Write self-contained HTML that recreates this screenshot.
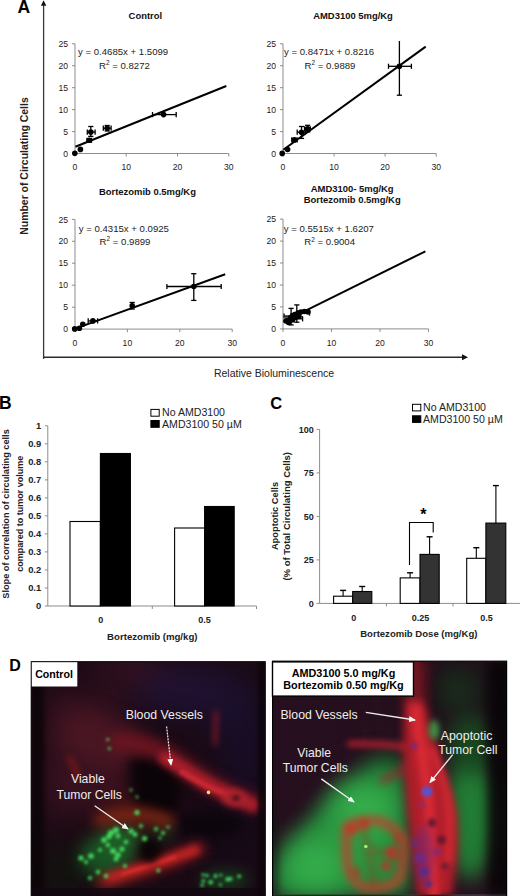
<!DOCTYPE html>
<html><head><meta charset="utf-8"><title>Figure</title>
<style>
html,body{margin:0;padding:0;background:#fff;width:520px;height:896px;overflow:hidden}
body{position:relative;font-family:"Liberation Sans", sans-serif}
</style></head><body>
<svg width="520" height="896" viewBox="0 0 520 896" style="position:absolute;left:0;top:0" font-family='"Liberation Sans", sans-serif'><text x="17.5" y="12.6" font-size="17.5" font-weight="bold" text-anchor="start" fill="#000" >A</text><line x1="43.6" y1="359" x2="43.6" y2="5" stroke="#3a3a3a" stroke-width="1.3"/><path d="M40.9 5.8 L43.6 0.3 L46.3 5.8 Z" fill="#111"/><line x1="43" y1="357.2" x2="462.5" y2="357.2" stroke="#2a2a2a" stroke-width="1.6"/><path d="M462 354.2 L468 357.2 L462 360.2 Z" fill="#111"/><text transform="translate(28.2,166) rotate(-90)" font-size="10.45" font-weight="bold" text-anchor="middle" fill="#222">Number of Circulating Cells</text><text x="274.0" y="376.6" font-size="10.5" text-anchor="middle" fill="#222" >Relative Bioluminescence</text><line x1="75" y1="43.8" x2="75" y2="154.5" stroke="#8c8c8c" stroke-width="1"/><line x1="72" y1="153.5" x2="75" y2="153.5" stroke="#8c8c8c" stroke-width="1"/><text x="68.0" y="156.6" font-size="8.6" text-anchor="end" fill="#222" >0</text><line x1="72" y1="131.6" x2="75" y2="131.6" stroke="#8c8c8c" stroke-width="1"/><text x="68.0" y="134.7" font-size="8.6" text-anchor="end" fill="#222" >5</text><line x1="72" y1="109.6" x2="75" y2="109.6" stroke="#8c8c8c" stroke-width="1"/><text x="68.0" y="112.7" font-size="8.6" text-anchor="end" fill="#222" >10</text><line x1="72" y1="87.7" x2="75" y2="87.7" stroke="#8c8c8c" stroke-width="1"/><text x="68.0" y="90.8" font-size="8.6" text-anchor="end" fill="#222" >15</text><line x1="72" y1="65.7" x2="75" y2="65.7" stroke="#8c8c8c" stroke-width="1"/><text x="68.0" y="68.8" font-size="8.6" text-anchor="end" fill="#222" >20</text><line x1="72" y1="43.8" x2="75" y2="43.8" stroke="#8c8c8c" stroke-width="1"/><text x="68.0" y="46.9" font-size="8.6" text-anchor="end" fill="#222" >25</text><line x1="75" y1="153.5" x2="228.8" y2="153.5" stroke="#8c8c8c" stroke-width="1"/><line x1="75.0" y1="153.5" x2="75.0" y2="156.5" stroke="#8c8c8c" stroke-width="1"/><text x="75.0" y="169.5" font-size="8.6" text-anchor="middle" fill="#222" >0</text><line x1="126.2" y1="153.5" x2="126.2" y2="156.5" stroke="#8c8c8c" stroke-width="1"/><text x="126.2" y="169.5" font-size="8.6" text-anchor="middle" fill="#222" >10</text><line x1="177.5" y1="153.5" x2="177.5" y2="156.5" stroke="#8c8c8c" stroke-width="1"/><text x="177.5" y="169.5" font-size="8.6" text-anchor="middle" fill="#222" >20</text><line x1="228.8" y1="153.5" x2="228.8" y2="156.5" stroke="#8c8c8c" stroke-width="1"/><text x="228.8" y="169.5" font-size="8.6" text-anchor="middle" fill="#222" >30</text><text x="145.4" y="18.8" font-size="9.45" font-weight="bold" text-anchor="middle" fill="#111" >Control</text><text x="78.0" y="55.1" font-size="9.6" text-anchor="start" fill="#222" >y = 0.4685x + 1.5099</text><text x="99.0" y="68.8" font-size="9.6" text-anchor="start" fill="#222" >R<tspan dy="-3.5" font-size="6.5">2</tspan><tspan dy="3.5"> = 0.8272</tspan></text><line x1="90.8" y1="126.5" x2="90.8" y2="136.4" stroke="#000" stroke-width="1.3"/><line x1="88.2" y1="126.5" x2="93.39999999999999" y2="126.5" stroke="#000" stroke-width="1.3"/><line x1="88.2" y1="136.4" x2="93.39999999999999" y2="136.4" stroke="#000" stroke-width="1.3"/><line x1="87.3" y1="132.1" x2="95.1" y2="132.1" stroke="#000" stroke-width="1.3"/><line x1="87.3" y1="129.5" x2="87.3" y2="134.7" stroke="#000" stroke-width="1.3"/><line x1="95.1" y1="129.5" x2="95.1" y2="134.7" stroke="#000" stroke-width="1.3"/><line x1="103.3" y1="128.2" x2="111.1" y2="128.2" stroke="#000" stroke-width="1.3"/><line x1="103.3" y1="125.6" x2="103.3" y2="130.79999999999998" stroke="#000" stroke-width="1.3"/><line x1="111.1" y1="125.6" x2="111.1" y2="130.79999999999998" stroke="#000" stroke-width="1.3"/><line x1="107.2" y1="125.5" x2="107.2" y2="131" stroke="#000" stroke-width="1.3"/><line x1="104.60000000000001" y1="125.5" x2="109.8" y2="125.5" stroke="#000" stroke-width="1.3"/><line x1="104.60000000000001" y1="131" x2="109.8" y2="131" stroke="#000" stroke-width="1.3"/><line x1="87.0" y1="140.3" x2="91.5" y2="140.3" stroke="#000" stroke-width="1.3"/><line x1="87.0" y1="137.70000000000002" x2="87.0" y2="142.9" stroke="#000" stroke-width="1.3"/><line x1="91.5" y1="137.70000000000002" x2="91.5" y2="142.9" stroke="#000" stroke-width="1.3"/><line x1="152.5" y1="114.6" x2="176.2" y2="114.6" stroke="#000" stroke-width="1.3"/><line x1="152.5" y1="112.0" x2="152.5" y2="117.19999999999999" stroke="#000" stroke-width="1.3"/><line x1="176.2" y1="112.0" x2="176.2" y2="117.19999999999999" stroke="#000" stroke-width="1.3"/><circle cx="74.8" cy="153.3" r="2.8" fill="#000"/><circle cx="80.4" cy="149.4" r="2.8" fill="#000"/><circle cx="89.2" cy="140.3" r="2.8" fill="#000"/><circle cx="90.8" cy="132.1" r="2.8" fill="#000"/><circle cx="107.2" cy="128.2" r="2.8" fill="#000"/><circle cx="163.6" cy="114.6" r="2.8" fill="#000"/><line x1="75.4" y1="146.8" x2="226.3" y2="86.0" stroke="#000" stroke-width="2"/><line x1="283" y1="43.8" x2="283" y2="154.5" stroke="#8c8c8c" stroke-width="1"/><line x1="280" y1="153.5" x2="283" y2="153.5" stroke="#8c8c8c" stroke-width="1"/><text x="276.0" y="156.6" font-size="8.6" text-anchor="end" fill="#222" >0</text><line x1="280" y1="131.6" x2="283" y2="131.6" stroke="#8c8c8c" stroke-width="1"/><text x="276.0" y="134.7" font-size="8.6" text-anchor="end" fill="#222" >5</text><line x1="280" y1="109.6" x2="283" y2="109.6" stroke="#8c8c8c" stroke-width="1"/><text x="276.0" y="112.7" font-size="8.6" text-anchor="end" fill="#222" >10</text><line x1="280" y1="87.7" x2="283" y2="87.7" stroke="#8c8c8c" stroke-width="1"/><text x="276.0" y="90.8" font-size="8.6" text-anchor="end" fill="#222" >15</text><line x1="280" y1="65.7" x2="283" y2="65.7" stroke="#8c8c8c" stroke-width="1"/><text x="276.0" y="68.8" font-size="8.6" text-anchor="end" fill="#222" >20</text><line x1="280" y1="43.8" x2="283" y2="43.8" stroke="#8c8c8c" stroke-width="1"/><text x="276.0" y="46.9" font-size="8.6" text-anchor="end" fill="#222" >25</text><line x1="283" y1="153.5" x2="436.2" y2="153.5" stroke="#8c8c8c" stroke-width="1"/><line x1="283.0" y1="153.5" x2="283.0" y2="156.5" stroke="#8c8c8c" stroke-width="1"/><text x="283.0" y="169.5" font-size="8.6" text-anchor="middle" fill="#222" >0</text><line x1="334.1" y1="153.5" x2="334.1" y2="156.5" stroke="#8c8c8c" stroke-width="1"/><text x="334.1" y="169.5" font-size="8.6" text-anchor="middle" fill="#222" >10</text><line x1="385.1" y1="153.5" x2="385.1" y2="156.5" stroke="#8c8c8c" stroke-width="1"/><text x="385.1" y="169.5" font-size="8.6" text-anchor="middle" fill="#222" >20</text><line x1="436.2" y1="153.5" x2="436.2" y2="156.5" stroke="#8c8c8c" stroke-width="1"/><text x="436.2" y="169.5" font-size="8.6" text-anchor="middle" fill="#222" >30</text><text x="353.0" y="19.4" font-size="9.45" font-weight="bold" text-anchor="middle" fill="#111" >AMD3100 5mg/Kg</text><text x="284.0" y="55.1" font-size="9.6" text-anchor="start" fill="#222" >y = 0.8471x + 0.8216</text><text x="304.6" y="68.5" font-size="9.6" text-anchor="start" fill="#222" >R<tspan dy="-3.5" font-size="6.5">2</tspan><tspan dy="3.5"> = 0.9889</tspan></text><line x1="301.5" y1="126.5" x2="301.5" y2="138.4" stroke="#000" stroke-width="1.3"/><line x1="298.9" y1="126.5" x2="304.1" y2="126.5" stroke="#000" stroke-width="1.3"/><line x1="298.9" y1="138.4" x2="304.1" y2="138.4" stroke="#000" stroke-width="1.3"/><line x1="297.2" y1="132.2" x2="305.3" y2="132.2" stroke="#000" stroke-width="1.3"/><line x1="297.2" y1="129.6" x2="297.2" y2="134.79999999999998" stroke="#000" stroke-width="1.3"/><line x1="305.3" y1="129.6" x2="305.3" y2="134.79999999999998" stroke="#000" stroke-width="1.3"/><line x1="307.6" y1="125.3" x2="307.6" y2="132" stroke="#000" stroke-width="1.3"/><line x1="305.0" y1="125.3" x2="310.20000000000005" y2="125.3" stroke="#000" stroke-width="1.3"/><line x1="305.0" y1="132" x2="310.20000000000005" y2="132" stroke="#000" stroke-width="1.3"/><line x1="304.5" y1="128.8" x2="310.3" y2="128.8" stroke="#000" stroke-width="1.3"/><line x1="304.5" y1="126.20000000000002" x2="304.5" y2="131.4" stroke="#000" stroke-width="1.3"/><line x1="310.3" y1="126.20000000000002" x2="310.3" y2="131.4" stroke="#000" stroke-width="1.3"/><line x1="291.8" y1="139.9" x2="297.2" y2="139.9" stroke="#000" stroke-width="1.3"/><line x1="291.8" y1="137.3" x2="291.8" y2="142.5" stroke="#000" stroke-width="1.3"/><line x1="297.2" y1="137.3" x2="297.2" y2="142.5" stroke="#000" stroke-width="1.3"/><line x1="399.4" y1="41.0" x2="399.4" y2="95.2" stroke="#000" stroke-width="1.3"/><line x1="396.79999999999995" y1="95.2" x2="402.0" y2="95.2" stroke="#000" stroke-width="1.3"/><line x1="388.5" y1="66.3" x2="411.4" y2="66.3" stroke="#000" stroke-width="1.3"/><line x1="388.5" y1="63.699999999999996" x2="388.5" y2="68.89999999999999" stroke="#000" stroke-width="1.3"/><line x1="411.4" y1="63.699999999999996" x2="411.4" y2="68.89999999999999" stroke="#000" stroke-width="1.3"/><circle cx="282.2" cy="153.4" r="2.8" fill="#000"/><circle cx="287.6" cy="149.5" r="2.8" fill="#000"/><circle cx="294.5" cy="139.9" r="2.8" fill="#000"/><circle cx="301.5" cy="132.2" r="2.8" fill="#000"/><circle cx="307.6" cy="128.8" r="2.8" fill="#000"/><circle cx="399.4" cy="66.3" r="2.8" fill="#000"/><line x1="283.3" y1="149.8" x2="425.7" y2="46.6" stroke="#000" stroke-width="2"/><line x1="75" y1="219.4" x2="75" y2="330.1" stroke="#8c8c8c" stroke-width="1"/><line x1="72" y1="329.1" x2="75" y2="329.1" stroke="#8c8c8c" stroke-width="1"/><text x="68.0" y="332.2" font-size="8.6" text-anchor="end" fill="#222" >0</text><line x1="72" y1="307.2" x2="75" y2="307.2" stroke="#8c8c8c" stroke-width="1"/><text x="68.0" y="310.3" font-size="8.6" text-anchor="end" fill="#222" >5</text><line x1="72" y1="285.2" x2="75" y2="285.2" stroke="#8c8c8c" stroke-width="1"/><text x="68.0" y="288.3" font-size="8.6" text-anchor="end" fill="#222" >10</text><line x1="72" y1="263.2" x2="75" y2="263.2" stroke="#8c8c8c" stroke-width="1"/><text x="68.0" y="266.4" font-size="8.6" text-anchor="end" fill="#222" >15</text><line x1="72" y1="241.3" x2="75" y2="241.3" stroke="#8c8c8c" stroke-width="1"/><text x="68.0" y="244.4" font-size="8.6" text-anchor="end" fill="#222" >20</text><line x1="72" y1="219.4" x2="75" y2="219.4" stroke="#8c8c8c" stroke-width="1"/><text x="68.0" y="222.5" font-size="8.6" text-anchor="end" fill="#222" >25</text><line x1="75" y1="329.1" x2="232.2" y2="329.1" stroke="#8c8c8c" stroke-width="1"/><line x1="75.0" y1="329.1" x2="75.0" y2="332.1" stroke="#8c8c8c" stroke-width="1"/><text x="75.0" y="346.0" font-size="8.6" text-anchor="middle" fill="#222" >0</text><line x1="127.4" y1="329.1" x2="127.4" y2="332.1" stroke="#8c8c8c" stroke-width="1"/><text x="127.4" y="346.0" font-size="8.6" text-anchor="middle" fill="#222" >10</text><line x1="179.8" y1="329.1" x2="179.8" y2="332.1" stroke="#8c8c8c" stroke-width="1"/><text x="179.8" y="346.0" font-size="8.6" text-anchor="middle" fill="#222" >20</text><line x1="232.2" y1="329.1" x2="232.2" y2="332.1" stroke="#8c8c8c" stroke-width="1"/><text x="232.2" y="346.0" font-size="8.6" text-anchor="middle" fill="#222" >30</text><text x="147.4" y="195.0" font-size="9.45" font-weight="bold" text-anchor="middle" fill="#111" >Bortezomib 0.5mg/Kg</text><text x="78.8" y="231.5" font-size="9.6" text-anchor="start" fill="#222" >y = 0.4315x + 0.0925</text><text x="99.6" y="244.6" font-size="9.6" text-anchor="start" fill="#222" >R<tspan dy="-3.5" font-size="6.5">2</tspan><tspan dy="3.5"> = 0.9899</tspan></text><line x1="88.2" y1="320.9" x2="97.6" y2="320.9" stroke="#000" stroke-width="1.3"/><line x1="88.2" y1="318.29999999999995" x2="88.2" y2="323.5" stroke="#000" stroke-width="1.3"/><line x1="97.6" y1="318.29999999999995" x2="97.6" y2="323.5" stroke="#000" stroke-width="1.3"/><line x1="132.2" y1="302.5" x2="132.2" y2="309" stroke="#000" stroke-width="1.3"/><line x1="129.6" y1="302.5" x2="134.79999999999998" y2="302.5" stroke="#000" stroke-width="1.3"/><line x1="129.6" y1="309" x2="134.79999999999998" y2="309" stroke="#000" stroke-width="1.3"/><line x1="193.8" y1="273.7" x2="193.8" y2="300.4" stroke="#000" stroke-width="1.3"/><line x1="191.20000000000002" y1="273.7" x2="196.4" y2="273.7" stroke="#000" stroke-width="1.3"/><line x1="191.20000000000002" y1="300.4" x2="196.4" y2="300.4" stroke="#000" stroke-width="1.3"/><line x1="166.9" y1="286.5" x2="221.2" y2="286.5" stroke="#000" stroke-width="1.3"/><line x1="166.9" y1="283.9" x2="166.9" y2="289.1" stroke="#000" stroke-width="1.3"/><line x1="221.2" y1="283.9" x2="221.2" y2="289.1" stroke="#000" stroke-width="1.3"/><circle cx="74.7" cy="328.9" r="2.8" fill="#000"/><circle cx="79.4" cy="328.3" r="2.8" fill="#000"/><circle cx="82.8" cy="324.2" r="2.8" fill="#000"/><circle cx="92.9" cy="320.9" r="2.8" fill="#000"/><circle cx="132.2" cy="305.7" r="2.8" fill="#000"/><circle cx="193.8" cy="286.5" r="2.8" fill="#000"/><line x1="75.3" y1="328.6" x2="225.2" y2="274.2" stroke="#000" stroke-width="2"/><line x1="283" y1="219.1" x2="283" y2="329.9" stroke="#8c8c8c" stroke-width="1"/><line x1="280" y1="328.9" x2="283" y2="328.9" stroke="#8c8c8c" stroke-width="1"/><text x="276.0" y="332.0" font-size="8.6" text-anchor="end" fill="#222" >0</text><line x1="280" y1="306.9" x2="283" y2="306.9" stroke="#8c8c8c" stroke-width="1"/><text x="276.0" y="310.1" font-size="8.6" text-anchor="end" fill="#222" >5</text><line x1="280" y1="285.0" x2="283" y2="285.0" stroke="#8c8c8c" stroke-width="1"/><text x="276.0" y="288.1" font-size="8.6" text-anchor="end" fill="#222" >10</text><line x1="280" y1="263.0" x2="283" y2="263.0" stroke="#8c8c8c" stroke-width="1"/><text x="276.0" y="266.1" font-size="8.6" text-anchor="end" fill="#222" >15</text><line x1="280" y1="241.1" x2="283" y2="241.1" stroke="#8c8c8c" stroke-width="1"/><text x="276.0" y="244.2" font-size="8.6" text-anchor="end" fill="#222" >20</text><line x1="280" y1="219.1" x2="283" y2="219.1" stroke="#8c8c8c" stroke-width="1"/><text x="276.0" y="222.2" font-size="8.6" text-anchor="end" fill="#222" >25</text><line x1="283" y1="328.9" x2="428.5" y2="328.9" stroke="#8c8c8c" stroke-width="1"/><line x1="283.0" y1="328.9" x2="283.0" y2="331.9" stroke="#8c8c8c" stroke-width="1"/><text x="283.0" y="346.0" font-size="8.6" text-anchor="middle" fill="#222" >0</text><line x1="331.5" y1="328.9" x2="331.5" y2="331.9" stroke="#8c8c8c" stroke-width="1"/><text x="331.5" y="346.0" font-size="8.6" text-anchor="middle" fill="#222" >10</text><line x1="380.0" y1="328.9" x2="380.0" y2="331.9" stroke="#8c8c8c" stroke-width="1"/><text x="380.0" y="346.0" font-size="8.6" text-anchor="middle" fill="#222" >20</text><line x1="428.5" y1="328.9" x2="428.5" y2="331.9" stroke="#8c8c8c" stroke-width="1"/><text x="428.5" y="346.0" font-size="8.6" text-anchor="middle" fill="#222" >30</text><text x="352.2" y="192.3" font-size="9.45" font-weight="bold" text-anchor="middle" fill="#111" >AMD3100- 5mg/Kg</text><text x="352.2" y="203.3" font-size="9.45" font-weight="bold" text-anchor="middle" fill="#111" >Bortezomib 0.5mg/Kg</text><text x="283.8" y="232.0" font-size="9.6" text-anchor="start" fill="#222" >y = 0.5515x + 1.6207</text><text x="304.2" y="245.0" font-size="9.6" text-anchor="start" fill="#222" >R<tspan dy="-3.5" font-size="6.5">2</tspan><tspan dy="3.5"> = 0.9004</tspan></text><line x1="291.1" y1="308.4" x2="291.1" y2="324.9" stroke="#000" stroke-width="1.3"/><line x1="288.5" y1="308.4" x2="293.70000000000005" y2="308.4" stroke="#000" stroke-width="1.3"/><line x1="288.5" y1="324.9" x2="293.70000000000005" y2="324.9" stroke="#000" stroke-width="1.3"/><line x1="296.8" y1="304.9" x2="296.8" y2="322.2" stroke="#000" stroke-width="1.3"/><line x1="294.2" y1="304.9" x2="299.40000000000003" y2="304.9" stroke="#000" stroke-width="1.3"/><line x1="294.2" y1="322.2" x2="299.40000000000003" y2="322.2" stroke="#000" stroke-width="1.3"/><line x1="286" y1="318.8" x2="302.6" y2="318.8" stroke="#000" stroke-width="1.3"/><line x1="286" y1="316.2" x2="286" y2="321.40000000000003" stroke="#000" stroke-width="1.3"/><line x1="302.6" y1="316.2" x2="302.6" y2="321.40000000000003" stroke="#000" stroke-width="1.3"/><line x1="298" y1="313" x2="309.5" y2="313" stroke="#000" stroke-width="1.3"/><line x1="298" y1="310.4" x2="298" y2="315.6" stroke="#000" stroke-width="1.3"/><line x1="309.5" y1="310.4" x2="309.5" y2="315.6" stroke="#000" stroke-width="1.3"/><line x1="284" y1="316" x2="296" y2="316" stroke="#000" stroke-width="1.3"/><line x1="284" y1="313.4" x2="284" y2="318.6" stroke="#000" stroke-width="1.3"/><line x1="296" y1="313.4" x2="296" y2="318.6" stroke="#000" stroke-width="1.3"/><circle cx="286" cy="321" r="2.8" fill="#000"/><circle cx="288.5" cy="322.5" r="2.8" fill="#000"/><circle cx="290" cy="318" r="2.8" fill="#000"/><circle cx="292.5" cy="320" r="2.8" fill="#000"/><circle cx="292.5" cy="315.5" r="2.8" fill="#000"/><circle cx="295.5" cy="317.5" r="2.8" fill="#000"/><circle cx="295" cy="314.5" r="2.8" fill="#000"/><circle cx="298" cy="313" r="2.8" fill="#000"/><circle cx="299" cy="316.5" r="2.8" fill="#000"/><circle cx="301" cy="312" r="2.8" fill="#000"/><circle cx="304.5" cy="311.5" r="2.8" fill="#000"/><circle cx="308" cy="312" r="2.8" fill="#000"/><line x1="283.5" y1="321.6" x2="425.4" y2="251.3" stroke="#000" stroke-width="2"/><text x="-0.9" y="408.9" font-size="17.5" font-weight="bold" text-anchor="start" fill="#000" >B</text><line x1="47.8" y1="425.8" x2="47.8" y2="606.0" stroke="#8c8c8c" stroke-width="1"/><line x1="44.8" y1="606.0" x2="47.8" y2="606.0" stroke="#8c8c8c" stroke-width="1"/><text x="41.2" y="609.3" font-size="9.4" font-weight="bold" text-anchor="end" fill="#222" >0</text><line x1="44.8" y1="588.0" x2="47.8" y2="588.0" stroke="#8c8c8c" stroke-width="1"/><text x="41.2" y="591.3" font-size="9.4" font-weight="bold" text-anchor="end" fill="#222" >0.1</text><line x1="44.8" y1="570.0" x2="47.8" y2="570.0" stroke="#8c8c8c" stroke-width="1"/><text x="41.2" y="573.3" font-size="9.4" font-weight="bold" text-anchor="end" fill="#222" >0.2</text><line x1="44.8" y1="551.9" x2="47.8" y2="551.9" stroke="#8c8c8c" stroke-width="1"/><text x="41.2" y="555.2" font-size="9.4" font-weight="bold" text-anchor="end" fill="#222" >0.3</text><line x1="44.8" y1="533.9" x2="47.8" y2="533.9" stroke="#8c8c8c" stroke-width="1"/><text x="41.2" y="537.2" font-size="9.4" font-weight="bold" text-anchor="end" fill="#222" >0.4</text><line x1="44.8" y1="515.9" x2="47.8" y2="515.9" stroke="#8c8c8c" stroke-width="1"/><text x="41.2" y="519.2" font-size="9.4" font-weight="bold" text-anchor="end" fill="#222" >0.5</text><line x1="44.8" y1="497.9" x2="47.8" y2="497.9" stroke="#8c8c8c" stroke-width="1"/><text x="41.2" y="501.2" font-size="9.4" font-weight="bold" text-anchor="end" fill="#222" >0.6</text><line x1="44.8" y1="479.9" x2="47.8" y2="479.9" stroke="#8c8c8c" stroke-width="1"/><text x="41.2" y="483.2" font-size="9.4" font-weight="bold" text-anchor="end" fill="#222" >0.7</text><line x1="44.8" y1="461.8" x2="47.8" y2="461.8" stroke="#8c8c8c" stroke-width="1"/><text x="41.2" y="465.1" font-size="9.4" font-weight="bold" text-anchor="end" fill="#222" >0.8</text><line x1="44.8" y1="443.8" x2="47.8" y2="443.8" stroke="#8c8c8c" stroke-width="1"/><text x="41.2" y="447.1" font-size="9.4" font-weight="bold" text-anchor="end" fill="#222" >0.9</text><line x1="44.8" y1="425.8" x2="47.8" y2="425.8" stroke="#8c8c8c" stroke-width="1"/><text x="41.2" y="429.1" font-size="9.4" font-weight="bold" text-anchor="end" fill="#222" >1</text><line x1="47.8" y1="606.0" x2="256.5" y2="606.0" stroke="#8c8c8c" stroke-width="1"/><line x1="152.3" y1="606.0" x2="152.3" y2="609.0" stroke="#8c8c8c" stroke-width="1"/><line x1="256.5" y1="606.0" x2="256.5" y2="609.0" stroke="#8c8c8c" stroke-width="1"/><rect x="70.0" y="521.5" width="30.4" height="84.5" fill="#fff" stroke="#000" stroke-width="1.1"/><rect x="100.4" y="453.5" width="30.0" height="152.5" fill="#000" stroke="#000" stroke-width="1.1"/><rect x="174.6" y="528.0" width="30.0" height="78.0" fill="#fff" stroke="#000" stroke-width="1.1"/><rect x="204.6" y="506.5" width="29.6" height="99.5" fill="#000" stroke="#000" stroke-width="1.1"/><text x="100.8" y="623.3" font-size="9" font-weight="bold" text-anchor="middle" fill="#222" >0</text><text x="204.6" y="623.3" font-size="9" font-weight="bold" text-anchor="middle" fill="#222" >0.5</text><text x="152.3" y="639.8" font-size="9.65" font-weight="bold" text-anchor="middle" fill="#222" >Bortezomib (mg/kg)</text><text transform="translate(9.2,514) rotate(-90)" font-size="9.2" font-weight="bold" text-anchor="middle" fill="#222">Slope of correlation of circulating cells</text><text transform="translate(23.0,513.7) rotate(-90)" font-size="9.0" font-weight="bold" text-anchor="middle" fill="#222">compared to tumor volume</text><rect x="150.9" y="409.4" width="8.3" height="6.8" fill="#fff" stroke="#000" stroke-width="1"/><rect x="150.9" y="420.5" width="8.3" height="6.8" fill="#000" stroke="#000" stroke-width="1"/><text x="162.0" y="416.0" font-size="10.6" text-anchor="start" fill="#222" >No AMD3100</text><text x="162.0" y="427.5" font-size="10.6" text-anchor="start" fill="#222" >AMD3100 50 µM</text><text x="270.2" y="409.2" font-size="16.5" font-weight="bold" text-anchor="start" fill="#000" >C</text><line x1="319.6" y1="429.4" x2="319.6" y2="603.4" stroke="#8c8c8c" stroke-width="1"/><line x1="316.6" y1="603.4" x2="319.6" y2="603.4" stroke="#8c8c8c" stroke-width="1"/><text x="313.8" y="606.6" font-size="9" font-weight="bold" text-anchor="end" fill="#222" >0</text><line x1="316.6" y1="559.9" x2="319.6" y2="559.9" stroke="#8c8c8c" stroke-width="1"/><text x="313.8" y="563.1" font-size="9" font-weight="bold" text-anchor="end" fill="#222" >25</text><line x1="316.6" y1="516.4" x2="319.6" y2="516.4" stroke="#8c8c8c" stroke-width="1"/><text x="313.8" y="519.6" font-size="9" font-weight="bold" text-anchor="end" fill="#222" >50</text><line x1="316.6" y1="472.9" x2="319.6" y2="472.9" stroke="#8c8c8c" stroke-width="1"/><text x="313.8" y="476.1" font-size="9" font-weight="bold" text-anchor="end" fill="#222" >75</text><line x1="316.6" y1="429.4" x2="319.6" y2="429.4" stroke="#8c8c8c" stroke-width="1"/><text x="313.8" y="432.6" font-size="9" font-weight="bold" text-anchor="end" fill="#222" >100</text><line x1="319.6" y1="603.4" x2="520" y2="603.4" stroke="#8c8c8c" stroke-width="1"/><line x1="386.4" y1="603.4" x2="386.4" y2="606.4" stroke="#8c8c8c" stroke-width="1"/><line x1="453.0" y1="603.4" x2="453.0" y2="606.4" stroke="#8c8c8c" stroke-width="1"/><line x1="343.1" y1="596.2" x2="343.1" y2="590.4" stroke="#000" stroke-width="1.1"/><line x1="340.1" y1="590.4" x2="346.1" y2="590.4" stroke="#000" stroke-width="1.4"/><rect x="333.6" y="596.2" width="19.1" height="7.2" fill="#fff" stroke="#000" stroke-width="1.1"/><line x1="362.2" y1="591.5" x2="362.2" y2="586.5" stroke="#000" stroke-width="1.1"/><line x1="359.2" y1="586.5" x2="365.2" y2="586.5" stroke="#000" stroke-width="1.4"/><rect x="352.7" y="591.5" width="19.1" height="11.9" fill="#333" stroke="#000" stroke-width="1.1"/><line x1="410.1" y1="577.9" x2="410.1" y2="572.8" stroke="#000" stroke-width="1.1"/><line x1="407.1" y1="572.8" x2="413.1" y2="572.8" stroke="#000" stroke-width="1.4"/><rect x="400.2" y="577.9" width="19.8" height="25.5" fill="#fff" stroke="#000" stroke-width="1.1"/><line x1="429.6" y1="554.4" x2="429.6" y2="536.8" stroke="#000" stroke-width="1.1"/><line x1="426.6" y1="536.8" x2="432.6" y2="536.8" stroke="#000" stroke-width="1.4"/><rect x="420.0" y="554.4" width="19.2" height="49.0" fill="#333" stroke="#000" stroke-width="1.1"/><line x1="476.3" y1="558.3" x2="476.3" y2="547.7" stroke="#000" stroke-width="1.1"/><line x1="473.3" y1="547.7" x2="479.3" y2="547.7" stroke="#000" stroke-width="1.4"/><rect x="466.7" y="558.3" width="19.2" height="45.1" fill="#fff" stroke="#000" stroke-width="1.1"/><line x1="495.9" y1="523.1" x2="495.9" y2="485.6" stroke="#000" stroke-width="1.1"/><line x1="492.9" y1="485.6" x2="498.9" y2="485.6" stroke="#000" stroke-width="1.4"/><rect x="485.9" y="523.1" width="19.9" height="80.3" fill="#333" stroke="#000" stroke-width="1.1"/><path d="M409.5 565 L409.5 522.5 L433.2 522.5 L433.2 532.5" fill="none" stroke="#000" stroke-width="1.1"/><text x="423.4" y="519.5" font-size="16" font-weight="bold" text-anchor="middle" fill="#000" >*</text><text x="353.8" y="621.0" font-size="9" font-weight="bold" text-anchor="middle" fill="#222" >0</text><text x="420.6" y="621.0" font-size="9" font-weight="bold" text-anchor="middle" fill="#222" >0.25</text><text x="486.5" y="621.0" font-size="9" font-weight="bold" text-anchor="middle" fill="#222" >0.5</text><text x="418.8" y="637.3" font-size="9.55" font-weight="bold" text-anchor="middle" fill="#222" >Bortezomib Dose (mg/Kg)</text><text transform="translate(278.2,516) rotate(-90)" font-size="9.3" font-weight="bold" text-anchor="middle" fill="#222">Apoptotic Cells</text><text transform="translate(290.2,516.3) rotate(-90)" font-size="9.5" font-weight="bold" text-anchor="middle" fill="#222">(% of Total Circulating Cells)</text><rect x="412.5" y="404.3" width="8.3" height="6.6" fill="#fff" stroke="#000" stroke-width="1"/><rect x="412.5" y="415.8" width="8.3" height="6.6" fill="#000" stroke="#000" stroke-width="1"/><text x="423.0" y="410.9" font-size="10.6" text-anchor="start" fill="#222" >No AMD3100</text><text x="423.0" y="422.8" font-size="10.6" text-anchor="start" fill="#222" >AMD3100 50 µM</text><text x="9.2" y="670.8" font-size="16" font-weight="bold" text-anchor="start" fill="#000" >D</text></svg>
<svg width="520" height="896" viewBox="0 0 520 896" style="position:absolute;left:0;top:0" font-family='"Liberation Sans", sans-serif'>
<defs>
<filter id="b0_7" filterUnits="userSpaceOnUse" x="0" y="600" width="520" height="296" color-interpolation-filters="sRGB"><feGaussianBlur stdDeviation="0.7"/></filter>
<filter id="b1" filterUnits="userSpaceOnUse" x="0" y="600" width="520" height="296" color-interpolation-filters="sRGB"><feGaussianBlur stdDeviation="1"/></filter>
<filter id="b1_5" filterUnits="userSpaceOnUse" x="0" y="600" width="520" height="296" color-interpolation-filters="sRGB"><feGaussianBlur stdDeviation="1.5"/></filter>
<filter id="b2" filterUnits="userSpaceOnUse" x="0" y="600" width="520" height="296" color-interpolation-filters="sRGB"><feGaussianBlur stdDeviation="2"/></filter>
<filter id="b3" filterUnits="userSpaceOnUse" x="0" y="600" width="520" height="296" color-interpolation-filters="sRGB"><feGaussianBlur stdDeviation="3"/></filter>
<filter id="b4" filterUnits="userSpaceOnUse" x="0" y="600" width="520" height="296" color-interpolation-filters="sRGB"><feGaussianBlur stdDeviation="4"/></filter>
<filter id="b5" filterUnits="userSpaceOnUse" x="0" y="600" width="520" height="296" color-interpolation-filters="sRGB"><feGaussianBlur stdDeviation="5"/></filter>
<filter id="b6" filterUnits="userSpaceOnUse" x="0" y="600" width="520" height="296" color-interpolation-filters="sRGB"><feGaussianBlur stdDeviation="6"/></filter>
<filter id="b8" filterUnits="userSpaceOnUse" x="0" y="600" width="520" height="296" color-interpolation-filters="sRGB"><feGaussianBlur stdDeviation="8"/></filter>
<filter id="b10" filterUnits="userSpaceOnUse" x="0" y="600" width="520" height="296" color-interpolation-filters="sRGB"><feGaussianBlur stdDeviation="10"/></filter>
<filter id="b12" filterUnits="userSpaceOnUse" x="0" y="600" width="520" height="296" color-interpolation-filters="sRGB"><feGaussianBlur stdDeviation="12"/></filter>
<filter id="b16" filterUnits="userSpaceOnUse" x="0" y="600" width="520" height="296" color-interpolation-filters="sRGB"><feGaussianBlur stdDeviation="16"/></filter>
<filter id="b20" filterUnits="userSpaceOnUse" x="0" y="600" width="520" height="296" color-interpolation-filters="sRGB"><feGaussianBlur stdDeviation="20"/></filter>
<clipPath id="cl"><rect x="30.8" y="661.2" width="234.7" height="234.8"/></clipPath>
<clipPath id="cr"><rect x="272" y="661.2" width="235" height="234.8"/></clipPath>
<marker id="ah" markerWidth="7" markerHeight="6" refX="6" refY="3" orient="auto" markerUnits="userSpaceOnUse"><path d="M0 0 L7 3 L0 6 Z" fill="#f4f4f4"/></marker>
</defs>
<g clip-path="url(#cl)">
<rect x="30.8" y="661.2" width="234.7" height="234.8" fill="#1a0a14"/>
<g filter="url(#b16)">
<path d="M45 690 L120 700 L140 760 L125 800 L45 820 Z" fill="#3a1220"/>
<ellipse cx="130" cy="668" rx="40" ry="14" fill="#3c1222"/>
<ellipse cx="185" cy="690" rx="50" ry="24" fill="#201234"/>
<ellipse cx="240" cy="720" rx="25" ry="40" fill="#1c1232"/>
<ellipse cx="235" cy="840" rx="28" ry="22" fill="#1a0e28"/>
<ellipse cx="245" cy="760" rx="20" ry="60" fill="#170d26"/>
<ellipse cx="135" cy="815" rx="32" ry="16" fill="#521612"/>
<ellipse cx="220" cy="835" rx="45" ry="28" fill="#160a18"/>
<ellipse cx="70" cy="870" rx="30" ry="20" fill="#10160e"/>
</g>
<g filter="url(#b10)">
<path d="M70 710 Q120 720 150 745 L120 770 Q80 760 60 740 Z" fill="#4a1622"/>
</g>
<rect x="30.8" y="661.2" width="13" height="234.8" fill="#0c0508" opacity="0.85" filter="url(#b2)"/>
<g filter="url(#b6)">
<path d="M130 760 Q150 752 170 768 Q185 785 178 810 Q160 822 140 812 Q128 790 130 760 Z" fill="#0a0408"/>
<ellipse cx="210" cy="825" rx="34" ry="13" fill="#0c060c"/>
<ellipse cx="150" cy="852" rx="10" ry="12" fill="#0a0508"/>
</g>
<g filter="url(#b8)">
<ellipse cx="108" cy="856" rx="28" ry="22" fill="#1a5424"/>
<ellipse cx="120" cy="838" rx="20" ry="12" fill="#1e6428"/>
<ellipse cx="225" cy="880" rx="24" ry="7" fill="#174a22"/>
<ellipse cx="162" cy="832" rx="10" ry="8" fill="#163e1c"/>
</g>
<g filter="url(#b6)" fill="none" stroke-linecap="round" stroke-linejoin="round">
<path d="M118 742 Q150 742 176 760 Q200 778 222 790 Q240 798 255 804" stroke="#6a1420" stroke-width="18"/>
<path d="M100 820 Q125 812 150 815 Q160 818 168 822" stroke="#802614" stroke-width="12"/>
<path d="M104 882 Q130 874 160 864 Q185 855 198 849" stroke="#901a1c" stroke-width="14"/>
</g>
<g filter="url(#b3)" fill="none" stroke-linecap="round" stroke-linejoin="round">
<path d="M165 758 Q185 770 200 780 Q214 788 228 794 Q242 800 252 805" stroke="#a81e2a" stroke-width="13"/>
<path d="M216 712 L215 744" stroke="#901a28" stroke-width="3.5"/>
<path d="M70 758 L78 776" stroke="#7a1818" stroke-width="5"/>
<path d="M110 877 Q140 869 170 859 Q186 853 195 850" stroke="#c02424" stroke-width="8"/>
</g>
<g filter="url(#b1_5)" fill="none" stroke-linecap="round" stroke-linejoin="round">
<path d="M182 772 Q200 783 216 790 Q226 794 232 796" stroke="#c82832" stroke-width="5"/>
<path d="M122 874 Q150 866 175 857" stroke="#d82c2c" stroke-width="3"/>
</g>
<ellipse cx="234" cy="798" rx="12" ry="8" fill="#a8222c" filter="url(#b3)"/>
<ellipse cx="236" cy="798" rx="4" ry="2.5" fill="#3a0c18" filter="url(#b2)"/>
<ellipse cx="150" cy="851" rx="9" ry="12" fill="#0c0508" filter="url(#b4)"/>
<g filter="url(#b1_5)" fill="#44d85e">
<circle cx="137.0" cy="812.5" r="2.6"/>
<circle cx="111.0" cy="833.0" r="3.0"/>
<circle cx="116.0" cy="830.0" r="3.0"/>
<circle cx="109.0" cy="836.5" r="2.8"/>
<circle cx="104.0" cy="840.0" r="2.8"/>
<circle cx="118.0" cy="836.0" r="2.4"/>
<circle cx="131.0" cy="831.0" r="2.6"/>
<circle cx="135.0" cy="834.5" r="2.4"/>
<circle cx="144.6" cy="838.5" r="2.6"/>
<circle cx="113.0" cy="851.0" r="3.0"/>
<circle cx="118.0" cy="855.0" r="2.8"/>
<circle cx="122.0" cy="849.0" r="2.6"/>
<circle cx="116.0" cy="859.0" r="2.4"/>
<circle cx="91.0" cy="856.0" r="2.8"/>
<circle cx="81.0" cy="858.0" r="2.6"/>
<circle cx="86.0" cy="862.0" r="2.0"/>
<circle cx="98.0" cy="872.0" r="2.2"/>
<circle cx="106.0" cy="876.0" r="2.2"/>
<circle cx="90.0" cy="878.0" r="2.0"/>
<circle cx="125.0" cy="866.0" r="2.0"/>
<circle cx="100.0" cy="850.0" r="2.0"/>
<circle cx="141.0" cy="826.0" r="2.0"/>
<circle cx="108.0" cy="845.0" r="2.2"/>
<circle cx="126.0" cy="842.0" r="2.2"/>
<circle cx="107.7" cy="739.5" r="1.6"/>
<circle cx="109.4" cy="748.5" r="1.6"/>
<circle cx="131.0" cy="790.0" r="1.4"/>
<circle cx="137.0" cy="797.0" r="1.4"/>
<circle cx="158.4" cy="870.5" r="2.0"/>
<circle cx="156.0" cy="829.0" r="2.0"/>
<circle cx="163.0" cy="833.0" r="2.0"/>
<circle cx="168.0" cy="827.0" r="1.6"/>
<circle cx="160.0" cy="838.0" r="1.6"/>
<circle cx="215.5" cy="876.0" r="2.0"/>
<circle cx="203.5" cy="881.0" r="1.7"/>
<circle cx="202.8" cy="880.6" r="1.4"/>
<circle cx="220.8" cy="874.9" r="1.5"/>
<circle cx="220.4" cy="884.7" r="1.5"/>
<circle cx="210.7" cy="882.2" r="2.3"/>
<circle cx="227.7" cy="879.2" r="2.3"/>
<circle cx="202.2" cy="885.2" r="1.7"/>
<circle cx="206.9" cy="875.5" r="1.7"/>
<circle cx="239.2" cy="876.3" r="1.9"/>
<circle cx="230.7" cy="878.8" r="1.9"/>
<circle cx="203.0" cy="874.8" r="1.6"/>
</g>
<circle cx="208.5" cy="792.4" r="1.8" fill="#f0e070" filter="url(#b0_7)"/>
<rect x="30.8" y="888" width="234.7" height="8" fill="#120810" opacity="0.75"/>
<rect x="258" y="661.2" width="8" height="234.8" fill="#0a0508" opacity="0.7" filter="url(#b1_5)"/>
</g>
<rect x="31.3" y="661.7" width="234" height="236" fill="none" stroke="#111" stroke-width="1"/>
<rect x="31.8" y="662.2" width="45.5" height="24.3" fill="#fff"/>
<text x="35.2" y="678" font-size="10.6" font-weight="bold" fill="#000">Control</text>
<text x="125.7" y="718.5" font-size="12.3" fill="#eee">Blood Vessels</text>
<text x="71" y="783.4" font-size="12.2" fill="#eee">Viable</text>
<text x="56.6" y="798.9" font-size="12.2" fill="#eee">Tumor Cells</text>
<line x1="166.6" y1="726.5" x2="171" y2="765" stroke="#eee" stroke-width="1.2" stroke-dasharray="2 1" marker-end="url(#ah)"/>
<line x1="94.7" y1="805.8" x2="128" y2="829" stroke="#eee" stroke-width="1.3" marker-end="url(#ah)"/>
<g clip-path="url(#cr)">
<rect x="272" y="661.2" width="235" height="233.6" fill="#26101e"/>
<g filter="url(#b16)">
<ellipse cx="465" cy="690" rx="50" ry="30" fill="#1a1418"/>
<ellipse cx="300" cy="740" rx="40" ry="50" fill="#2a1024"/>
</g>
<g filter="url(#b10)">
<path d="M272 896 L276 866 Q294 836 322 806 Q344 782 366 770 L404 762 L410 896 Z" fill="#22883a"/>
<ellipse cx="470" cy="815" rx="25" ry="65" fill="#217c34"/>
<ellipse cx="470" cy="745" rx="22" ry="30" fill="#17481f"/>
<ellipse cx="458" cy="690" rx="22" ry="20" fill="#1a2a1c"/>
<ellipse cx="385" cy="762" rx="20" ry="8" fill="#1a5a2a"/>
</g>
<g filter="url(#b16)">
<ellipse cx="364" cy="808" rx="34" ry="24" fill="#38b44e"/>
<ellipse cx="316" cy="866" rx="34" ry="28" fill="#36b04c"/>
<ellipse cx="375" cy="852" rx="16" ry="22" fill="#2c9e42"/>
</g>
<path d="M262 650 L262 838 Q285 818 305 798 Q325 778 345 762 L352 745 L352 650 Z" fill="#26101e" opacity="0.85" filter="url(#b5)"/>
<g filter="url(#b4)">
<path d="M402 661 L404 700 L404 723 L403 745 L404 769 L406 790 L408 814 L411 840 L413 860 L416 880 L417 896 L452 896 L454 880 L457 860 L458 840 L457 814 L450 790 L443 769 L437 745 L430 723 L425 700 L425 661 Z" fill="#b01e2a"/>
</g>
<g filter="url(#b3)" fill="none" stroke-linecap="round" stroke-linejoin="round">
<path d="M350 744 Q378 743 406 747" stroke="#b01e2e" stroke-width="6"/>
</g>
<g filter="url(#b4)" fill="none" stroke-linecap="round" stroke-linejoin="round">
<path d="M382 781 L407 768" stroke="#a02030" stroke-width="5"/>
<path d="M347 826 Q362 818 380 821 Q398 828 404 842 Q404 865 399 880 Q385 890 364 888 Q350 880 348 866 Q345 845 347 826 Z" stroke="#b84430" stroke-width="8"/>
<path d="M362 824 Q370 850 374 886 M374 850 L398 858" stroke="#9a3820" stroke-width="3"/>
</g>
<g filter="url(#b3)" fill="none" stroke-linecap="round" stroke-linejoin="round">
<path d="M413 664 Q414 700 418 730 Q424 765 428 795 Q431 830 432 860 Q433 880 434 896" stroke="#d62a34" stroke-width="11"/>
<path d="M432 750 Q440 770 446 790 Q452 815 448 860" stroke="#cc2832" stroke-width="8"/>
</g>
<g filter="url(#b3)">
<circle cx="352" cy="829" r="6" fill="#c03a26"/>
<circle cx="364" cy="824" r="5" fill="#b83a24"/>
<circle cx="392" cy="852" r="6" fill="#c0302a"/>
<circle cx="386" cy="866" r="5" fill="#b8342a"/>
<circle cx="398" cy="838" r="4" fill="#a83a24"/>
<circle cx="356" cy="872" r="4" fill="#a04024"/>
</g>
<rect x="272" y="800" width="6" height="96" fill="#0c1a10" opacity="0.5" filter="url(#b3)"/>
<rect x="398" y="650" width="34" height="52" fill="#3a0e1a" opacity="0.65" filter="url(#b5)"/>
<ellipse cx="424" cy="855" rx="9" ry="30" fill="#6a2a80" opacity="0.55" filter="url(#b5)"/>
<g filter="url(#b2)">
<circle cx="432" cy="822.7" r="4" fill="#5a1436"/>
<circle cx="441.5" cy="840" r="4" fill="#5a1436"/>
<circle cx="420" cy="858" r="5" fill="#6a2a8a"/>
<circle cx="424" cy="872" r="5" fill="#5a2a8a"/>
<circle cx="415" cy="843" r="3.5" fill="#6a2a7a"/>
<circle cx="437" cy="852" r="3.5" fill="#7a2a7a"/>
<circle cx="428" cy="884" r="4" fill="#5a2a7a"/>
<circle cx="414" cy="745.8" r="3" fill="#6a2a8a"/>
<circle cx="422" cy="805" r="3" fill="#8a2a6a"/>
<circle cx="445" cy="866" r="3" fill="#5a1a3a"/>
</g>
<ellipse cx="434" cy="730" rx="5" ry="10" fill="#3a9a48" filter="url(#b3)"/>
<circle cx="427" cy="791.5" r="5.5" fill="#6050c0" filter="url(#b1_5)"/>
<circle cx="365.8" cy="846.5" r="1.8" fill="#a0f070" filter="url(#b0_7)"/>
<rect x="488" y="661.2" width="24" height="233.6" fill="#050305" opacity="0.8" filter="url(#b5)"/>
<rect x="272" y="894.6" width="235" height="2" fill="#0a0608" opacity="0.8"/>
</g>
<rect x="272.6" y="661.2" width="234" height="236" fill="none" stroke="#000" stroke-width="1.2"/>
<rect x="272.5" y="661.9" width="141" height="34.2" fill="#fff" stroke="#000" stroke-width="1.4"/>
<text x="343.5" y="677.3" font-size="10.85" font-weight="bold" fill="#000" text-anchor="middle">AMD3100 5.0 mg/Kg</text>
<text x="343.5" y="688.9" font-size="10.85" font-weight="bold" fill="#000" text-anchor="middle">Bortezomib 0.50 mg/Kg</text>
<text x="280.4" y="718.9" font-size="12.3" fill="#eee">Blood Vessels</text>
<text x="297.3" y="757" font-size="12.2" fill="#eee">Viable</text>
<text x="282.7" y="772" font-size="12.2" fill="#eee">Tumor Cells</text>
<text x="440.7" y="739.7" font-size="12.4" fill="#eee">Apoptotic</text>
<text x="438.3" y="754.2" font-size="12.2" fill="#eee">Tumor Cell</text>
<line x1="365.8" y1="712.4" x2="415" y2="720" stroke="#eee" stroke-width="1.3" marker-end="url(#ah)"/>
<line x1="321.3" y1="778.9" x2="354" y2="802" stroke="#eee" stroke-width="1.3" marker-end="url(#ah)"/>
<line x1="452.7" y1="754.7" x2="430" y2="782.5" stroke="#eee" stroke-width="1.3" marker-end="url(#ah)"/>
</svg>
</body></html>
